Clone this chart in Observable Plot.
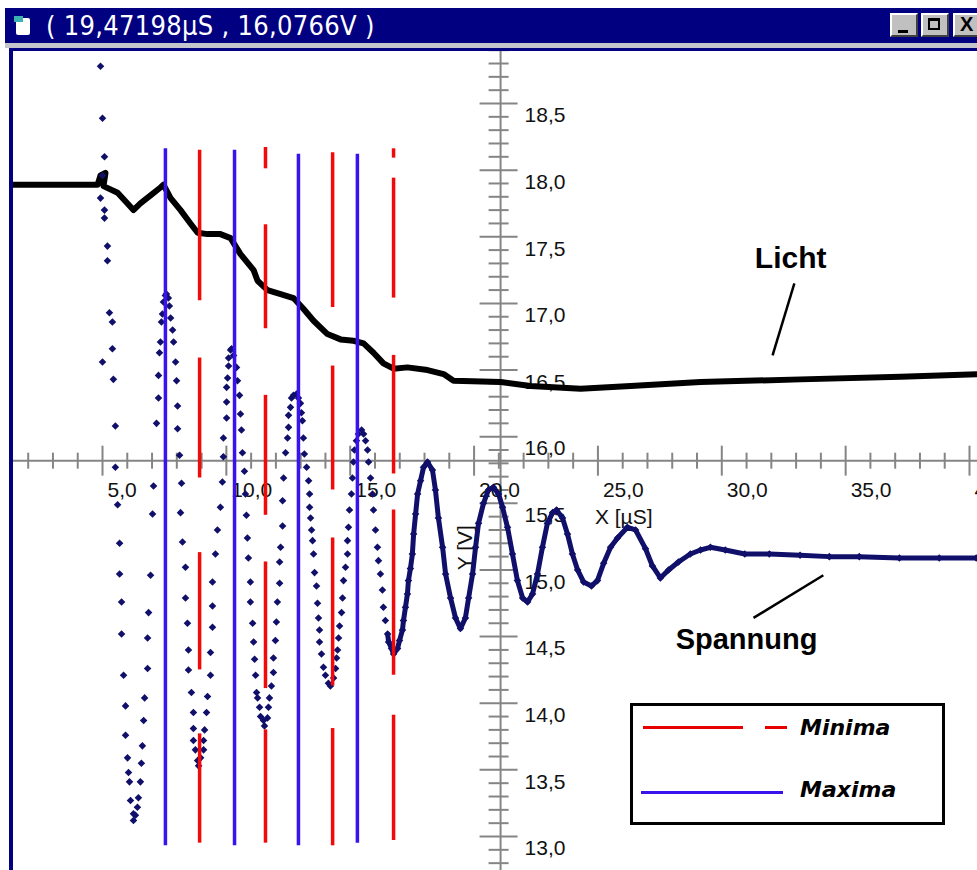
<!DOCTYPE html>
<html><head><meta charset="utf-8">
<script src="https://cdn.jsdelivr.net/npm/d3@7"></script>
<script src="https://cdn.jsdelivr.net/npm/@observablehq/plot@0.6"></script>
<style>
body{margin:0;background:#fff;}
#win{position:relative;width:977px;height:870px;overflow:hidden;background:#fff;font-family:"Liberation Sans",Arial,sans-serif;}
#chart{position:absolute;left:0;top:0;}
#titlebar{position:absolute;left:5px;top:8px;width:972px;height:35px;background:#000080;}
#strip{position:absolute;left:5px;top:43px;width:972px;height:5px;background:#c4c4cc;}
#topline{position:absolute;left:9px;top:48px;width:968px;height:3px;background:#000080;}
#leftline{position:absolute;left:9px;top:48px;width:4px;height:822px;background:#000080;}
#title{position:absolute;left:46px;top:8px;height:35px;line-height:36px;color:#fff;font-family:"Liberation Sans Narrow","DejaVu Sans Condensed",sans-serif;font-size:27px;letter-spacing:0.3px;white-space:nowrap;}
#icon{position:absolute;left:16px;top:18px;width:14px;height:17px;background:#fff;border-radius:2px;}
#icon:before{content:"";position:absolute;left:-2px;top:-2px;width:9px;height:6px;background:#3ab0b0;}
.btn{position:absolute;top:13px;width:28px;height:24px;background:#c0c0c0;box-sizing:border-box;border-top:2px solid #fff;border-left:2px solid #fff;border-right:2px solid #404040;border-bottom:2px solid #404040;font-family:"Liberation Sans",Arial,sans-serif;font-weight:bold;color:#000;}
#bmin{left:890px;}
#bmin:after{content:"";position:absolute;left:6px;top:15px;width:10px;height:3px;background:#000;}
#bmax{left:921px;}
#bmax:after{content:"";position:absolute;left:5px;top:3px;width:12px;height:12px;border:2px solid #000;border-top-width:3px;box-sizing:border-box;}
#bclose{left:953px;width:30px;font-size:20px;line-height:19px;padding-left:5px;}
#legend{position:absolute;left:630px;top:703px;width:315px;height:122px;box-sizing:border-box;border:3px solid #000;background:#fff;}
#legend .ln{position:absolute;height:3px;}
#legend .lt{position:absolute;left:167px;font-family:"DejaVu Sans",sans-serif;font-weight:bold;font-style:italic;font-size:22px;line-height:26px;color:#000;}
</style></head>
<body>
<div id="win">
  <div id="chart"></div>
  <div id="titlebar"></div>
  <div id="strip"></div>
  <div id="topline"></div>
  <div id="leftline"></div>
  <div id="icon"></div>
  <div id="title">( 19,47198µS , 16,0766V )</div>
  <div class="btn" id="bmin"></div>
  <div class="btn" id="bmax"></div>
  <div class="btn" id="bclose">X</div>
  <div id="legend">
    <div class="ln" style="left:10px;top:20px;width:100px;background:#e60000"></div>
    <div class="ln" style="left:132px;top:20px;width:22px;background:#e60000"></div>
    <div class="lt" style="top:9px">Minima</div>
    <div class="ln" style="left:8px;top:85px;width:142px;background:#3a12ee"></div>
    <div class="lt" style="top:71px">Maxima</div>
  </div>
</div>
<script>
// ---- data (x in µs, values in V) ----
const lichtData = [
  [1.0,17.89],[4.80,17.89],[4.92,17.96],[5.12,17.98],[5.04,17.88],[5.61,17.83],[6.01,17.75],[6.25,17.70],
  [6.53,17.75],[6.94,17.81],[7.34,17.87],[7.46,17.89],[7.75,17.79],[8.15,17.70],[8.55,17.60],[8.84,17.53],
  [9.24,17.52],[9.76,17.52],[10.17,17.49],[10.57,17.37],[11.10,17.25],[11.26,17.17],[11.66,17.10],[12.19,17.07],
  [12.71,17.04],[13.11,16.96],[13.52,16.87],[14.08,16.77],[14.61,16.73],[15.13,16.72],[15.54,16.70],[15.94,16.63],
  [16.34,16.55],[16.75,16.51],[17.31,16.52],[18.12,16.50],[18.77,16.47],[19.17,16.42],[21.07,16.41],[22.28,16.38],
  [24.30,16.36],[26.32,16.38],[29.14,16.41],[33.18,16.43],[37.22,16.45],[40.5,16.47]
];
const spannungData = [
  [4.92,18.78],[5.00,18.39],[5.08,18.10],[5.00,17.96],[4.92,17.79],[5.08,17.70],[5.08,17.64],[5.20,17.43],[5.20,17.32],
  [5.00,16.56],[5.28,16.93],[5.40,16.86],[5.40,16.66],[5.44,16.43],[5.52,16.08],[5.52,15.77],[5.61,15.49],[5.69,15.20],
  [5.69,14.97],[5.77,14.76],[5.77,14.52],[5.85,14.21],[5.93,13.98],[5.93,13.76],[6.01,13.59],[6.05,13.48],[6.09,13.41],
  [6.13,13.27],[6.25,13.17],[6.25,13.12],[6.33,13.16],[6.41,13.22],[6.45,13.29],[6.53,13.41],[6.57,13.55],[6.61,13.68],
  [6.66,13.87],[6.70,14.04],[6.82,14.26],[6.82,14.49],[6.86,14.68],[6.94,14.96],[7.02,15.42],[7.06,15.63],[7.18,16.10],
  [7.26,16.29],[7.26,16.46],[7.30,16.63],[7.34,16.71],[7.38,16.86],[7.42,16.92],[7.46,17.01],[7.54,17.06],[7.58,17.07],
  [7.66,17.04],[7.70,16.98],[7.75,16.89],[7.83,16.80],[7.87,16.71],[7.95,16.56],[7.99,16.42],[8.03,16.23],[8.03,16.06],
  [8.11,15.86],[8.19,15.65],[8.15,15.43],[8.23,15.21],[8.35,15.02],[8.35,14.79],[8.43,14.60],[8.47,14.40],[8.47,14.25],
  [8.59,14.08],[8.67,13.93],[8.67,13.81],[8.67,13.72],[8.75,13.65],[8.84,13.57],[8.88,13.53],[8.96,13.59],[9.08,13.65],
  [9.08,13.72],[9.12,13.80],[9.20,13.93],[9.24,14.05],[9.36,14.21],[9.36,14.38],[9.44,14.57],[9.44,14.73],[9.44,14.91],
  [9.56,15.12],[9.64,15.30],[9.76,15.47],[9.84,15.66],[9.88,15.85],[9.88,15.99],[10.01,16.14],[10.01,16.26],[10.01,16.37],
  [10.05,16.44],[10.09,16.53],[10.09,16.59],[10.17,16.65],[10.21,16.66],[10.29,16.61],[10.41,16.52],[10.45,16.42],
  [10.53,16.31],[10.57,16.17],[10.61,16.05],[10.65,15.88],[10.73,15.74],[10.77,15.57],[10.81,15.41],[10.85,15.24],
  [10.89,15.09],[10.97,14.91],[10.97,14.76],[11.06,14.60],[11.10,14.46],[11.14,14.33],[11.18,14.21],[11.22,14.08],
  [11.26,14.04],[11.34,13.97],[11.38,13.90],[11.50,13.87],[11.54,13.83],[11.66,13.89],[11.70,13.97],[11.74,14.04],
  [11.82,14.13],[11.90,14.23],[11.90,14.34],[11.98,14.47],[12.02,14.61],[12.06,14.76],[12.15,14.90],[12.15,15.06],
  [12.19,15.17],[12.27,15.33],[12.27,15.52],[12.31,15.69],[12.39,15.88],[12.47,15.99],[12.51,16.07],[12.51,16.16],
  [12.59,16.22],[12.63,16.29],[12.71,16.31],[12.83,16.32],[12.91,16.29],[12.99,16.25],[13.03,16.18],[13.07,16.12],
  [13.11,15.99],[13.15,15.87],[13.24,15.77],[13.32,15.67],[13.36,15.57],[13.36,15.47],[13.40,15.39],[13.44,15.30],
  [13.48,15.22],[13.52,15.12],[13.56,14.98],[13.64,14.88],[13.68,14.75],[13.72,14.64],[13.76,14.55],[13.76,14.46],
  [13.84,14.37],[13.92,14.27],[14.00,14.21],[14.12,14.15],[14.20,14.13],[14.33,14.19],[14.41,14.26],[14.45,14.34],
  [14.49,14.40],[14.53,14.49],[14.57,14.58],[14.65,14.68],[14.69,14.79],[14.73,14.92],[14.81,15.02],[14.89,15.12],
  [14.89,15.22],[14.93,15.32],[14.97,15.45],[15.05,15.57],[15.09,15.69],[15.13,15.81],[15.17,15.90],[15.25,15.97],
  [15.33,16.02],[15.46,16.05],[15.54,16.02],[15.62,15.97],[15.70,15.90],[15.74,15.81],[15.82,15.69],[15.90,15.57],
  [15.94,15.45],[16.02,15.30],[16.10,15.17],[16.14,15.07],[16.22,14.97],[16.30,14.85],[16.34,14.72],[16.42,14.62],
  [16.51,14.52],[16.55,14.46],[16.67,14.41],[16.75,14.37],[16.91,14.41],[16.99,14.47],[17.11,14.55],[17.15,14.62],
  [17.23,14.72],[17.31,14.82],[17.35,14.92],[17.43,15.01],[17.51,15.12],[17.56,15.27],[17.64,15.42],[17.72,15.57],
  [17.84,15.67],[17.96,15.77],[18.12,15.81],[18.32,15.75],[18.44,15.60],[18.56,15.39],[18.73,15.17],[18.85,14.97],
  [19.05,14.79],[19.25,14.64],[19.45,14.56],[19.65,14.64],[19.78,14.79],[19.94,14.97],[20.06,15.17],[20.18,15.35],
  [20.38,15.50],[20.58,15.60],[20.78,15.62],[20.99,15.57],[21.15,15.47],[21.35,15.32],[21.55,15.12],[21.75,14.92],
  [21.96,14.79],[22.16,14.76],[22.36,14.82],[22.56,14.97],[22.76,15.17],[22.96,15.35],[23.17,15.43],[23.33,15.45],
  [23.57,15.39],[23.77,15.27],[23.97,15.12],[24.18,15.00],[24.42,14.91],[24.74,14.88],[24.98,14.92],[25.23,15.05],
  [25.51,15.17],[25.79,15.24],[26.19,15.32],[26.52,15.30],[26.92,15.16],[27.20,15.03],[27.52,14.94],[27.85,15.00],
  [28.25,15.06],[28.73,15.12],[29.14,15.15],[29.54,15.17],[30.14,15.15],[30.93,15.12],[31.92,15.12],[33.16,15.11],
  [34.34,15.10],[35.55,15.10],[37.17,15.09],[38.78,15.09],[40.27,15.09]
];
const denseFrom = 16.5; // µs: from here the samples merge into a solid band
const maximaX = [7.54, 10.33, 12.91, 15.29];
const maximaTop = [18.16, 18.15, 18.12, 18.12];
const maximaBottom = [12.93, 12.93, 12.93, 12.95];
const minimaSegments = [
  [8.92,18.15,17.02],[8.92,16.59,15.69],[8.92,15.13,14.25],[8.92,13.77,12.95],
  [11.58,18.17,18.01],[11.58,17.59,16.81],[11.58,16.31,15.41],[11.58,15.06,14.11],[11.58,13.80,12.95],
  [14.29,18.13,16.97],[14.29,16.53,15.60],[14.29,15.24,14.13],[14.29,13.81,12.93],
  [16.75,18.16,18.09],[16.75,17.94,17.04],[16.75,16.61,15.72],[16.75,15.45,14.21],[16.75,13.91,12.97]
];
const xMajor = [5,10,15,20,25,30,35,40];
const xMinor = [2,3,4,6,7,8,9,11,12,13,14,16,17,18,19,21,22,23,24,26,27,28,29,31,32,33,34,36,37,38,39];
const yMajor = [13,13.5,14,14.5,15,15.5,16,16.5,17,17.5,18,18.5];
const yMinor = [12.8,12.9,13.1,13.2,13.3,13.4,13.6,13.7,13.8,13.9,14.1,14.2,14.3,14.4,14.6,14.7,14.8,14.9,
  15.1,15.2,15.3,15.4,15.6,15.7,15.8,15.9,16.1,16.2,16.3,16.4,16.6,16.7,16.8,16.9,17.1,17.2,17.3,17.4,
  17.6,17.7,17.8,17.9,18.1,18.2,18.3,18.4,18.6,18.7,18.8,18.9];
const xAxisAtV = 15.82;  // the x axis crosses here (V)
const yAxisAtT = 21.07;  // the y axis crosses here (µs)
const seriesLabels = [{text:"Licht", x:32.78, v:17.34, size:30},{text:"Spannung", x:31.0, v:14.48, size:29}];
const pointers = [{x1:32.93,v1:17.15,x2:32.05,v2:16.61},{x1:31.28,v1:14.64,x2:34.10,v2:14.96}];

// ---- build ----
const fmt = d => d.toFixed(1).replace(".", ",");
const licht = lichtData.map(([x,v]) => ({x, v}));
const spannung = spannungData.map(([x,v]) => ({x, v}));
const maxima = maximaX.map((x,i) => ({x, top: maximaTop[i], bottom: maximaBottom[i]}));
const minima = minimaSegments.map(([x,a,b]) => ({x, top: a, bottom: b}));
const vTick = {draw(ctx, size){const r = Math.sqrt(size/Math.PI); ctx.moveTo(0,-r); ctx.lineTo(0,r);}};
const hTick = {draw(ctx, size){const r = Math.sqrt(size/Math.PI); ctx.moveTo(-r,0); ctx.lineTo(r,0);}};
const axisColor = "#858585";
const navy = "#10106a";

const chart = Plot.plot({
  width: 977, height: 870,
  marginTop: 51, marginLeft: 13, marginRight: 0, marginBottom: 0,
  x: {domain: [5, 40], range: [102, 969], axis: null},
  y: {domain: [13, 18.5], range: [836, 103], axis: null},
  style: {background: "white", fontFamily: "'Liberation Sans', Arial, sans-serif", fontSize: "21px", overflow: "hidden"},
  marks: [
    Plot.ruleY([xAxisAtV], {stroke: axisColor, strokeWidth: 2}),
    Plot.ruleX([yAxisAtT], {stroke: axisColor, strokeWidth: 2}),
    Plot.dot(xMinor, {x: d => d, y: () => xAxisAtV, symbol: vTick, r: 8, stroke: axisColor, strokeWidth: 2, fill: "none"}),
    Plot.dot(xMajor, {x: d => d, y: () => xAxisAtV, symbol: vTick, r: 15, stroke: axisColor, strokeWidth: 2, fill: "none"}),
    Plot.dot(yMinor, {x: () => yAxisAtT, y: d => d, symbol: hTick, r: 10, dx: -2, stroke: axisColor, strokeWidth: 2, fill: "none"}),
    Plot.dot(yMajor, {x: () => yAxisAtT, y: d => d, symbol: hTick, r: 19, dx: -2, stroke: axisColor, strokeWidth: 2, fill: "none"}),
    Plot.text(xMajor, {x: d => d, y: () => xAxisAtV, text: fmt, dx: 5, dy: 30, textAnchor: "start", fill: "#111"}),
    Plot.text(yMajor, {x: () => yAxisAtT, y: d => d, text: fmt, dx: 24, dy: 12, textAnchor: "start", fill: "#111"}),
    Plot.text(["X [µS]"], {x: () => 25, y: () => xAxisAtV, text: d => d, dx: -3, dy: 57, textAnchor: "start", fill: "#111"}),
    Plot.text(["Y [V]"], {x: () => yAxisAtT, y: () => xAxisAtV, text: d => d, dx: -35, dy: 87, rotate: -90, fill: "#111"}),
    Plot.line(licht, {x: "x", y: "v", stroke: "#000", strokeWidth: 6, strokeLinejoin: "round", clip: true}),
    Plot.line(spannung.filter(d => d.x >= denseFrom), {x: "x", y: "v", stroke: navy, strokeWidth: 5, strokeLinejoin: "round", clip: true}),
    Plot.dot(spannung, {x: "x", y: "v", symbol: "diamond2", r: 3.4, fill: navy, stroke: "none", clip: true}),
    Plot.ruleX(minima, {x: "x", y1: "top", y2: "bottom", stroke: "#f00a0a", strokeWidth: 3.5}),
    Plot.ruleX(maxima, {x: "x", y1: "top", y2: "bottom", stroke: "#3a12ee", strokeWidth: 3.5}),
    Plot.link(pointers, {x1: "x1", y1: "v1", x2: "x2", y2: "v2", stroke: "#000", strokeWidth: 2.5}),
    Plot.text(seriesLabels, {x: "x", y: "v", text: "text", fontSize: d => d.size, fontWeight: "bold", fill: "#000"})
  ]
});
document.getElementById("chart").appendChild(chart);
</script>
</body></html>
